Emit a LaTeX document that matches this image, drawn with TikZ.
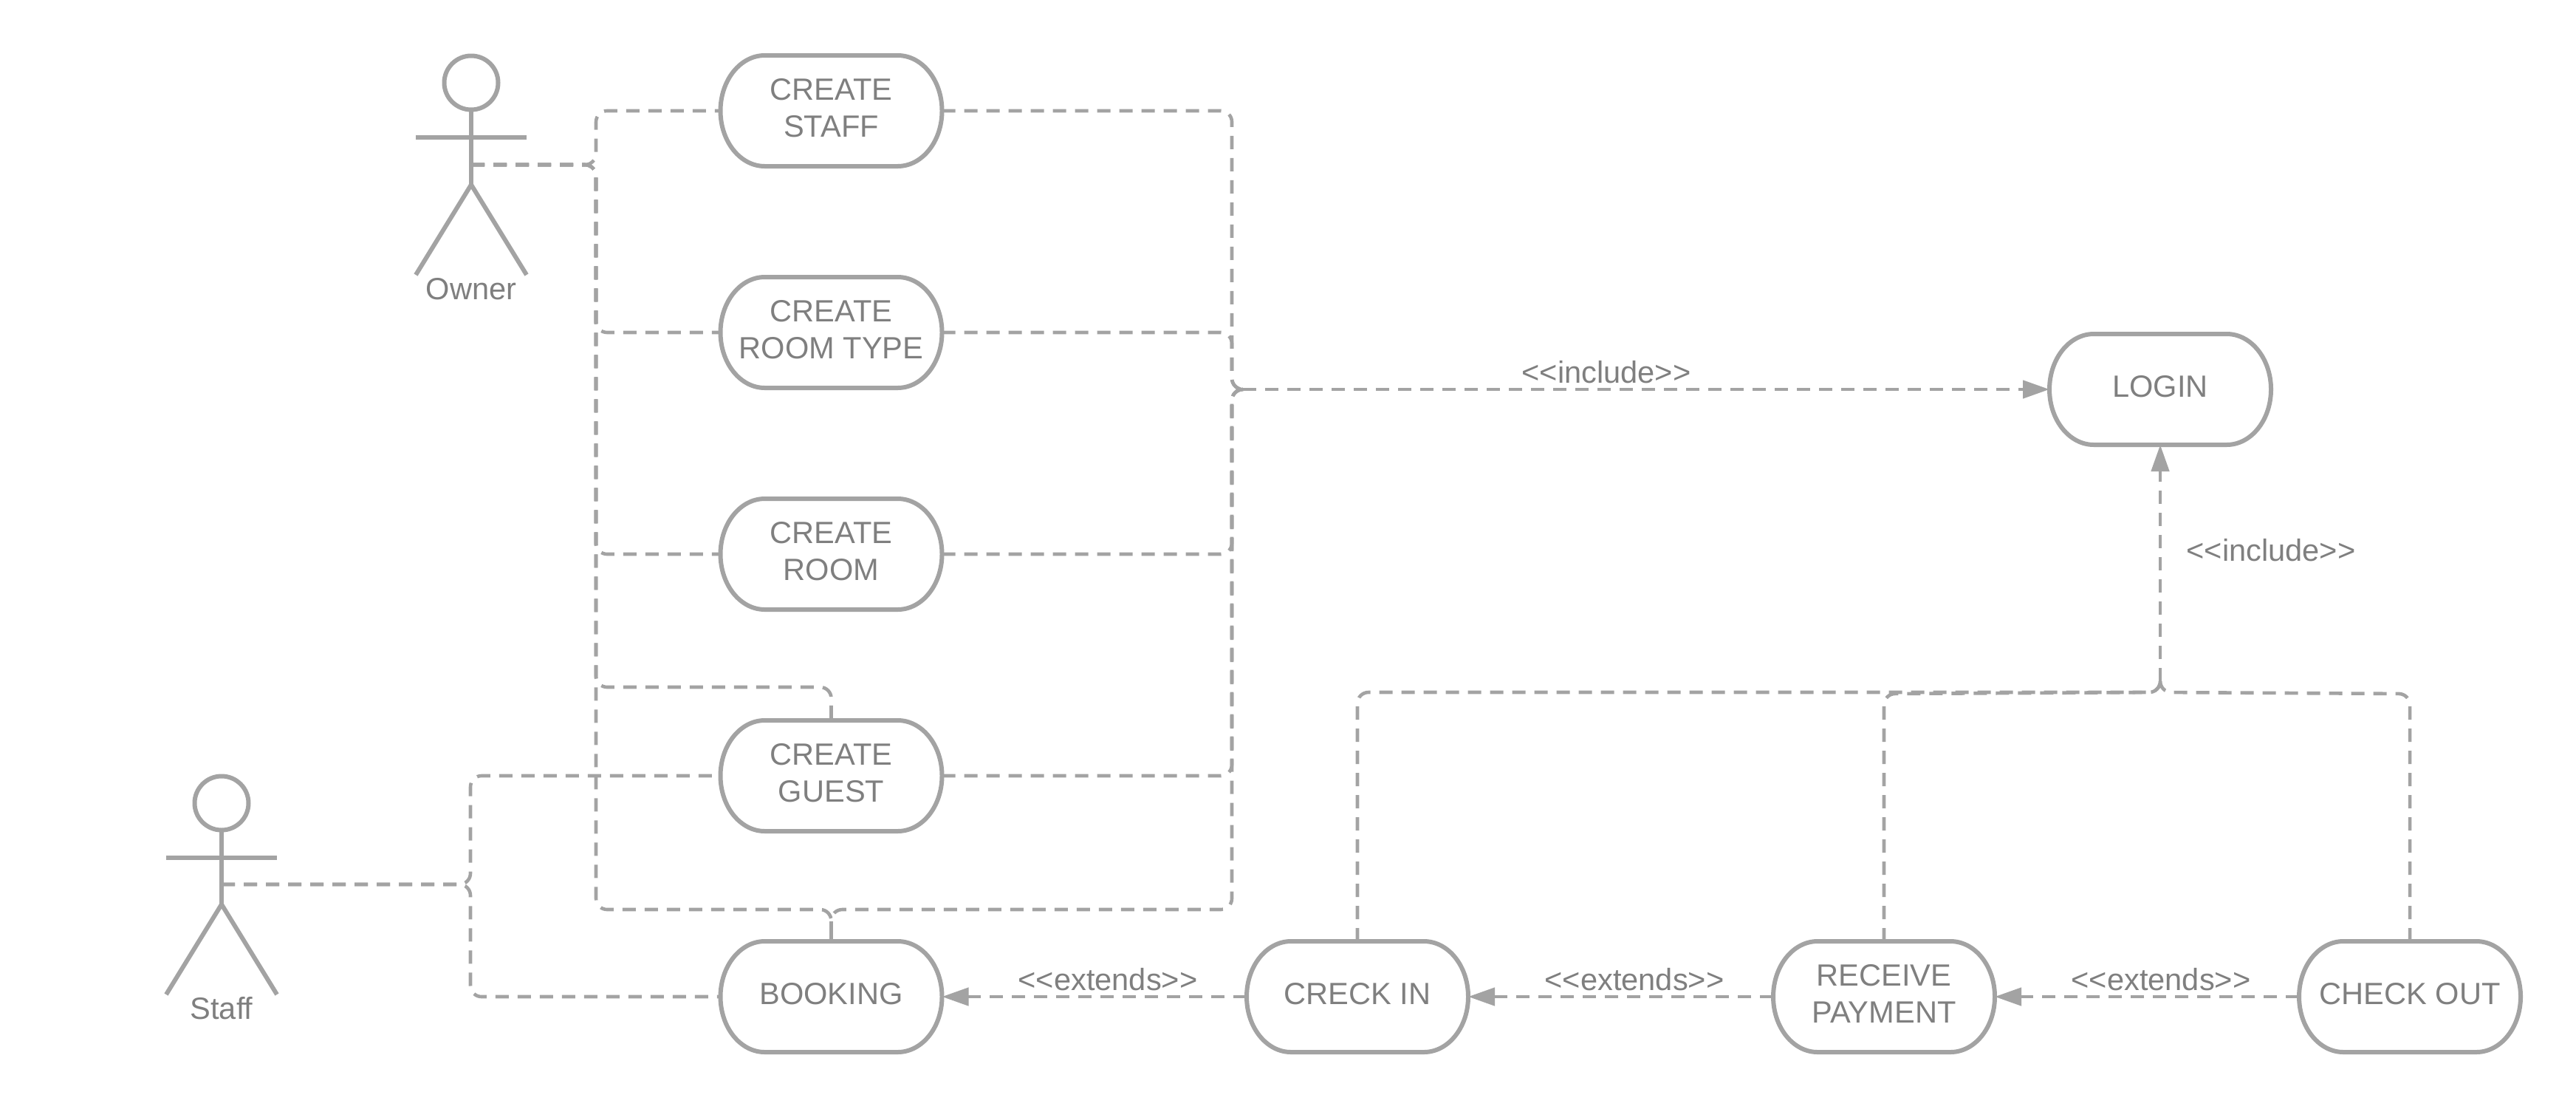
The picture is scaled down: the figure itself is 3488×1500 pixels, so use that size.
\documentclass[tikz,border=0pt]{standalone}
\usepackage{fontspec}
\setmainfont{Liberation Sans}
\usetikzlibrary{arrows.meta}
\definecolor{linegray}{HTML}{A3A3A3}
\definecolor{textgray}{HTML}{7F7F7F}
\tikzset{
  ucase/.style={minimum width=150pt,minimum height=75pt,inner sep=0pt,outer sep=0pt,text=textgray,font=\fontsize{20.8}{25}\selectfont},
  ucline/.style={draw=linegray,line width=3pt},
  stick/.style={draw=linegray,line width=3pt},
  actorhead/.style={circle,draw=linegray,line width=3pt,minimum size=36.5pt,inner sep=0pt,outer sep=0pt},
  actorname/.style={text=textgray,font=\fontsize{20.8}{25}\selectfont,inner sep=0pt},
  conn/.style={draw=linegray,line width=2.3pt,dash pattern=on 9pt off 6pt,rounded corners=7.5pt},
  arrowconn/.style={conn,-{Triangle[length=18pt,width=12pt,fill=linegray]}},
  rel/.style={text=textgray,font=\fontsize{20.8}{25}\selectfont,inner sep=0pt}
}
\newcommand{\usecasebox}[4]{%
  \node[ucase] (#1) at (#2,#3) {\raisebox{2.1pt}{\begin{tabular}{@{}c@{}}#4\end{tabular}}};
  \draw[ucline] ([xshift=30pt]#1.north west) -- ([xshift=-30pt]#1.north east)
    arc[start angle=90,end angle=-90,x radius=30pt,y radius=37.5pt]
    -- ([xshift=30pt]#1.south west)
    arc[start angle=270,end angle=90,x radius=30pt,y radius=37.5pt] -- cycle;
}
\newcommand{\actorfig}[5]{% name, x, headY, armY, hipY
  \node[actorhead] (#1head) at (#2,#3) {};
  \coordinate (#1hip) at (#2,#5);
  \draw[stick] (#1head.south) -- (#1hip);
  \draw[stick] (#2-75,#4) -- (#2+75,#4);
  \draw[stick] (#2-75,#5+122) -- (#1hip) -- (#2+75,#5+122);
}
\begin{document}
\begin{tikzpicture}[x=0.5pt,y=-0.5pt]
\useasboundingbox (0,0) rectangle (3488,1500);

\usecasebox{cstaff}{1125.5}{150}{CREATE\\STAFF}
\usecasebox{ctype}{1125.5}{450}{CREATE\\ROOM TYPE}
\usecasebox{croom}{1125.5}{750}{CREATE\\ROOM}
\usecasebox{cguest}{1125.5}{1050}{CREATE\\GUEST}
\usecasebox{booking}{1125.5}{1349}{BOOKING}
\usecasebox{checkin}{1838}{1349}{CRECK IN}
\usecasebox{payment}{2551}{1349}{RECEIVE\\PAYMENT}
\usecasebox{checkout}{3263}{1349}{CHECK OUT}
\usecasebox{login}{2925}{527}{LOGIN}

\actorfig{owner}{638}{112}{186}{250}
\actorfig{staff}{300}{1087}{1161}{1224}
\node[actorname] (ownername) at (638,391) {Owner};
\node[actorname] (staffname) at (300,1365) {Staff};

\coordinate (ownerj) at (638,223);
\coordinate (staffj) at (300,1197);
\coordinate (busL) at (807,223);
\coordinate (busS) at (637,1197);
\coordinate (busR) at (1668,527);
\coordinate (busRout) at (1683,527);
\coordinate (rowguest) at (807,930);
\coordinate (rowbook) at (807,1231);
\coordinate (topj) at (2925,937);
\coordinate (topjout) at (2925,922);

% owner associations
\draw[conn] (ownerj) -- (busL) -- (busL |- cstaff.west) -- (cstaff.west);
\draw[conn] (ownerj) -- (busL) -- (busL |- ctype.west) -- (ctype.west);
\draw[conn] (ownerj) -- (busL) -- (busL |- croom.west) -- (croom.west);
\draw[conn] (ownerj) -- (busL) -- (rowguest) -- (rowguest -| cguest.north) -- (cguest.north);
\draw[conn] (ownerj) -- (busL) -- (rowbook) -- (rowbook -| booking.north) -- (booking.north);

% staff associations
\draw[conn] (staffj) -- (busS) -- (busS |- cguest.west) -- (cguest.west);
\draw[conn] (staffj) -- (busS) -- (busS |- booking.west) -- (booking.west);

% include login
\draw[conn] (cstaff.east) -- (busR |- cstaff.east) -- (busR) -- (busRout);
\draw[conn] (ctype.east) -- (busR |- ctype.east) -- (busR) -- (busRout);
\draw[conn] (croom.east) -- (busR |- croom.east) -- (busR) -- (busRout);
\draw[conn] (cguest.east) -- (busR |- cguest.east) -- (busR) -- (busRout);
\draw[conn,dash phase=10.5pt] (booking.north) -- (rowbook -| booking.north) -- (rowbook -| busR) -- (busR) -- (busRout);
\draw[arrowconn] (busRout) -- (login.west);

\draw[conn] (checkin.north) -- (checkin.north |- topj) -- (topj) -- (topjout);
\draw[conn] (payment.north) -- (2551,939) -- (topj) -- (topjout);
\draw[conn] (checkout.north) -- (3263,939) -- (topj) -- (topjout);
\draw[arrowconn] (topjout) -- (login.south);

% extends
\draw[arrowconn] (checkin.west) -- (booking.east);
\draw[arrowconn] (payment.west) -- (checkin.east);
\draw[arrowconn] (checkout.west) -- (payment.east);

\node[rel] (inc1) at (2175,504) {<{}<include>{}>};
\node[rel] (inc2) at (3075,745) {<{}<include>{}>};
\node[rel] (ext1) at (1500,1326) {<{}<extends>{}>};
\node[rel] (ext2) at (2213,1326) {<{}<extends>{}>};
\node[rel] (ext3) at (2926,1326) {<{}<extends>{}>};
\end{tikzpicture}
\end{document}
